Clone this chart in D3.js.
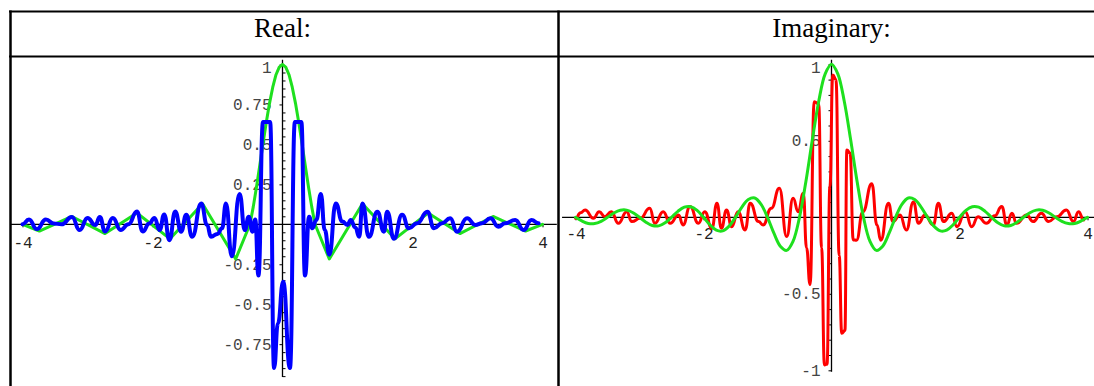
<!DOCTYPE html>
<html><head><meta charset="utf-8">
<script src="https://cdn.jsdelivr.net/npm/d3@7"></script>
<style>body{margin:0;background:#fff}svg{display:block}</style>
</head><body><svg id="c" width="1094" height="386"></svg>
<script>
// ---------- data ----------
const headers = ["Real:", "Imaginary:"];
const xTicks = [-4, -2, 2, 4];
const yTicksReal = [-0.75, -0.5, -0.25, 0.25, 0.5, 0.75, 1];
const yTicksImag = [-1, -0.5, 0.5, 1];

// envelope (green), right panel, smooth samples
const envX = [-4.0,-3.9,-3.8,-3.7,-3.6,-3.5,-3.4,-3.3,-3.2,-3.1,-3.0,-2.9,-2.8,-2.7,-2.6,-2.5,-2.4,-2.3,-2.2,-2.1,-2.0,-1.9,-1.8,-1.7,-1.6,-1.5,-1.4,-1.3,-1.2,-1.1,-1.0,-0.9,-0.8,-0.7,-0.6,-0.5,-0.4,-0.3,-0.2,-0.1,0.0,0.1,0.2,0.3,0.4,0.5,0.6,0.7,0.8,0.9,1.0,1.1,1.2,1.3,1.4,1.5,1.6,1.7,1.8,1.9,2.0,2.1,2.2,2.3,2.4,2.5,2.6,2.7,2.8,2.9,3.0,3.1,3.2,3.3,3.4,3.5,3.6,3.7,3.8,3.9,4.0];
const envY = [0,-0.024,-0.040,-0.041,-0.026,0,0.028,0.046,0.047,0.030,0,-0.032,-0.054,-0.056,-0.036,0,0.039,0.066,0.069,0.045,0,-0.049,-0.084,-0.089,-0.058,0,0.067,0.116,0.126,0.085,0,-0.104,-0.189,-0.216,-0.156,0,0.234,0.505,0.757,0.936,1,0.936,0.757,0.505,0.234,0,-0.156,-0.216,-0.189,-0.104,0,0.085,0.126,0.116,0.067,0,-0.058,-0.089,-0.084,-0.049,0,0.045,0.069,0.066,0.039,0,-0.036,-0.056,-0.054,-0.032,0,0.030,0.047,0.046,0.028,0,-0.026,-0.041,-0.040,-0.024,0];

// envelope (green), left panel, coarse samples
const envCoarseX = [-4,-3.74,-3.24,-2.73,-2.24,-1.73,-1.23,-0.72,-0.5,-0.45,-0.4,-0.35,-0.3,-0.25,-0.2,-0.15,-0.1,-0.05,0,0.05,0.1,0.15,0.2,0.25,0.3,0.35,0.4,0.45,0.5,0.72,1.23,1.73,2.24,2.73,3.24,3.74,4];
const envCoarseY = [0,-0.042,0.049,-0.058,0.071,-0.091,0.128,-0.217,0,0.109,0.234,0.368,0.505,0.637,0.757,0.858,0.936,0.984,1,0.984,0.936,0.858,0.757,0.637,0.505,0.368,0.234,0.109,0,-0.217,0.128,-0.091,0.071,-0.058,0.049,-0.042,0];

// real part (blue)
const realX = [-4.00,-3.90,-3.78,-3.64,-3.52,-3.40,-3.24,-3.12,-3.00,-2.88,-2.81,-2.73,-2.61,-2.49,-2.37,-2.24,-2.15,-2.05,-1.97,-1.89,-1.82,-1.74,-1.65,-1.56,-1.48,-1.39,-1.25,-1.16,-1.10,-1.00,-0.93,-0.87,-0.78,-0.66,-0.58,-0.52,-0.46,-0.42,-0.37,-0.30,-0.19,-0.13,-0.07,0.01,0.115,0.19,0.29,0.346,0.41,0.46,0.52,0.59,0.65,0.72,0.82,0.92,1.00,1.05,1.12,1.18,1.23,1.33,1.46,1.56,1.61,1.715,1.84,1.945,2.07,2.23,2.33,2.455,2.58,2.685,2.84,2.965,3.07,3.20,3.32,3.425,3.58,3.71,3.83,3.94];
const realY = [0.000,0.030,-0.030,0.030,0.005,0.000,0.045,-0.036,0.040,-0.005,0.045,-0.045,0.040,-0.035,0.000,0.080,-0.045,0.005,0.040,-0.036,0.062,-0.100,0.080,-0.046,0.060,-0.078,0.130,-0.004,-0.078,-0.060,-0.025,0.130,-0.200,0.190,-0.036,0.048,-0.046,0.030,-0.320,0.640,0.640,-0.900,-0.620,-0.360,-0.900,0.640,0.640,-0.320,0.048,-0.025,0.027,0.190,-0.036,-0.190,0.130,0.017,-0.004,0.027,-0.020,-0.078,0.130,-0.078,0.079,-0.046,0.079,-0.090,0.060,-0.025,0.006,0.079,-0.025,0.006,0.038,-0.046,0.038,-0.004,0.006,0.038,-0.015,0.006,0.027,-0.036,0.027,0.006];

// imaginary part (red)
const imagX = [-4.00,-3.92,-3.85,-3.72,-3.63,-3.54,-3.44,-3.33,-3.20,-3.12,-2.99,-2.84,-2.76,-2.63,-2.52,-2.39,-2.32,-2.21,-2.08,-1.98,-1.87,-1.79,-1.72,-1.64,-1.56,-1.46,-1.35,-1.27,-1.14,-1.07,-0.94,-0.815,-0.70,-0.60,-0.52,-0.44,-0.39,-0.335,-0.27,-0.20,-0.155,-0.11,-0.07,-0.025,0.02,0.07,0.12,0.16,0.21,0.24,0.29,0.34,0.39,0.49,0.63,0.71,0.77,0.89,0.96,1.07,1.17,1.28,1.36,1.46,1.59,1.67,1.75,1.88,1.96,2.09,2.19,2.29,2.42,2.55,2.66,2.74,2.82,2.89,3.05,3.15,3.28,3.39,3.52,3.67,3.78,3.86,3.94];
const imagY = [-0.007,0.030,0.048,-0.007,0.037,0.004,0.037,-0.039,0.037,-0.028,-0.007,0.059,-0.039,0.037,-0.039,0.015,-0.050,0.070,-0.039,0.037,-0.072,0.092,-0.072,0.048,-0.061,0.037,-0.083,0.092,-0.028,-0.050,0.059,0.190,-0.126,0.124,0.037,0.157,-0.200,-0.440,0.756,0.740,-0.200,-0.965,-0.960,0.200,0.930,0.900,-0.250,-0.758,-0.740,0.440,0.420,-0.148,-0.150,0.037,0.220,-0.050,-0.150,0.092,-0.028,0.015,-0.083,0.100,-0.039,0.015,-0.050,0.092,-0.028,0.026,-0.061,0.037,-0.061,0.004,-0.039,0.010,0.070,-0.050,0.026,-0.039,0.015,-0.028,0.026,-0.028,0.004,0.048,-0.028,0.037,-0.017];

// ---------- drawing ----------
const svg = d3.select("#c");
svg.append("rect").attr("width", 1094).attr("height", 386).attr("fill", "#fff");

const zip = (xs, ys) => xs.map((x, i) => [x, ys[i]]);

// table frame
const frame = svg.append("g").attr("stroke", "#000").attr("fill", "none");
frame.append("line").attr("x1", 9).attr("x2", 1094).attr("y1", 11.5).attr("y2", 11.5).attr("stroke-width", 2);
frame.append("line").attr("x1", 9).attr("x2", 1094).attr("y1", 56.5).attr("y2", 56.5).attr("stroke-width", 2);
frame.append("line").attr("x1", 10.5).attr("x2", 10.5).attr("y1", 10.5).attr("y2", 386).attr("stroke-width", 2.5);
frame.append("line").attr("x1", 558.5).attr("x2", 558.5).attr("y1", 10.5).attr("y2", 386).attr("stroke-width", 2.5);

function panel(opt) {
  const x = d3.scaleLinear([-4, 4], opt.xRange);
  const y = d3.scaleLinear([-1, 1], opt.yRange);
  const g = svg.append("g");

  // header
  svg.append("text").attr("x", x(0)).attr("y", 37).attr("text-anchor", "middle")
    .attr("font-family", "'Liberation Serif', serif").attr("font-size", 27).attr("fill", "#000")
    .text(opt.title);

  // axis lines
  const axLine = d3.line().x(d => x(d[0])).y(d => y(d[1]));
  g.append("path").attr("d", axLine([[opt.xExt[0], 0], [opt.xExt[1], 0]]))
    .attr("stroke", "#000").attr("stroke-width", 1.3).attr("fill", "none");
  g.append("path").attr("d", axLine([[0, opt.yExt[0]], [0, opt.yExt[1]]]))
    .attr("stroke", "#000").attr("stroke-width", 1.3).attr("fill", "none");

  // minor y ticks
  const minor = g.append("g").attr("transform", `translate(${x(0)},0)`)
    .call((opt.minorSide === "right" ? d3.axisRight(y) : d3.axisLeft(y))
      .tickValues(opt.minorTicks).tickSize(3).tickFormat(""));
  minor.select(".domain").remove();
  minor.selectAll("line").attr("stroke", "#000");

  // major y ticks + labels
  const ya = g.append("g").attr("transform", `translate(${x(0)},0)`)
    .call(d3.axisLeft(y).tickValues(opt.yTicks).tickSize(3).tickPadding(8).tickFormat(d => String(d)));
  ya.select(".domain").remove();
  ya.selectAll("line").attr("stroke", "#000");
  ya.selectAll("text").attr("font-family", "'Liberation Mono', monospace").attr("font-size", 16).attr("fill", "#444")
    .attr("dy", d => d === 1 ? "0.52em" : "0.32em");

  // x ticks + labels
  const xa = g.append("g").attr("transform", `translate(0,${y(0)})`)
    .call(d3.axisBottom(x).tickValues(xTicks).tickSize(3).tickPadding(opt.xPad).tickFormat(d => String(d)));
  xa.select(".domain").remove();
  xa.selectAll("line").attr("stroke", "#000");
  xa.selectAll("text").attr("font-family", "'Liberation Mono', monospace").attr("font-size", 16).attr("fill", "#222");

  // curves
  opt.curves.forEach(c => {
    g.append("path")
      .attr("d", d3.line().x(d => x(d[0])).y(d => y(d[1])).curve(c.curve)(c.data))
      .attr("fill", "none").attr("stroke", c.color).attr("stroke-width", c.width)
      .attr("stroke-linejoin", "round").attr("stroke-linecap", "round");
  });
}

const minorReal = [-0.95,-0.9,-0.85,-0.8,-0.7,-0.65,-0.6,-0.55,-0.45,-0.4,-0.35,-0.3,-0.2,-0.15,-0.1,-0.05,0.05,0.1,0.15,0.2,0.3,0.35,0.4,0.45,0.55,0.6,0.65,0.7,0.8,0.85,0.9,0.95];
const minorImag = [-0.9,-0.8,-0.7,-0.6,-0.4,-0.3,-0.2,-0.1,0.1,0.2,0.3,0.4,0.6,0.7,0.8,0.9];

panel({
  title: headers[0],
  xRange: [22.5, 542.5], yRange: [384.1, 64.5],
  xExt: [-4.19, 4.22], yExt: [-0.955, 1.03],
  yTicks: yTicksReal, minorTicks: minorReal, minorSide: "right", xPad: 9,
  curves: [
    {data: zip(envCoarseX, envCoarseY), color: "#1ee01e", width: 3, curve: d3.curveLinear},
    {data: zip(realX, realY), color: "#0000ff", width: 4, curve: d3.curveBumpX}
  ]
});

panel({
  title: headers[1],
  xRange: [575.5, 1087.5], yRange: [370.3, 64.3],
  xExt: [-4.21, 4.35], yExt: [-1.01, 1.03],
  yTicks: yTicksImag, minorTicks: minorImag, minorSide: "left", xPad: 7,
  curves: [
    {data: zip(imagX, imagY), color: "#ff0000", width: 3, curve: d3.curveBumpX},
    {data: zip(envX, envY), color: "#1ee01e", width: 3, curve: d3.curveCatmullRom}
  ]
});
</script>
</body></html>
